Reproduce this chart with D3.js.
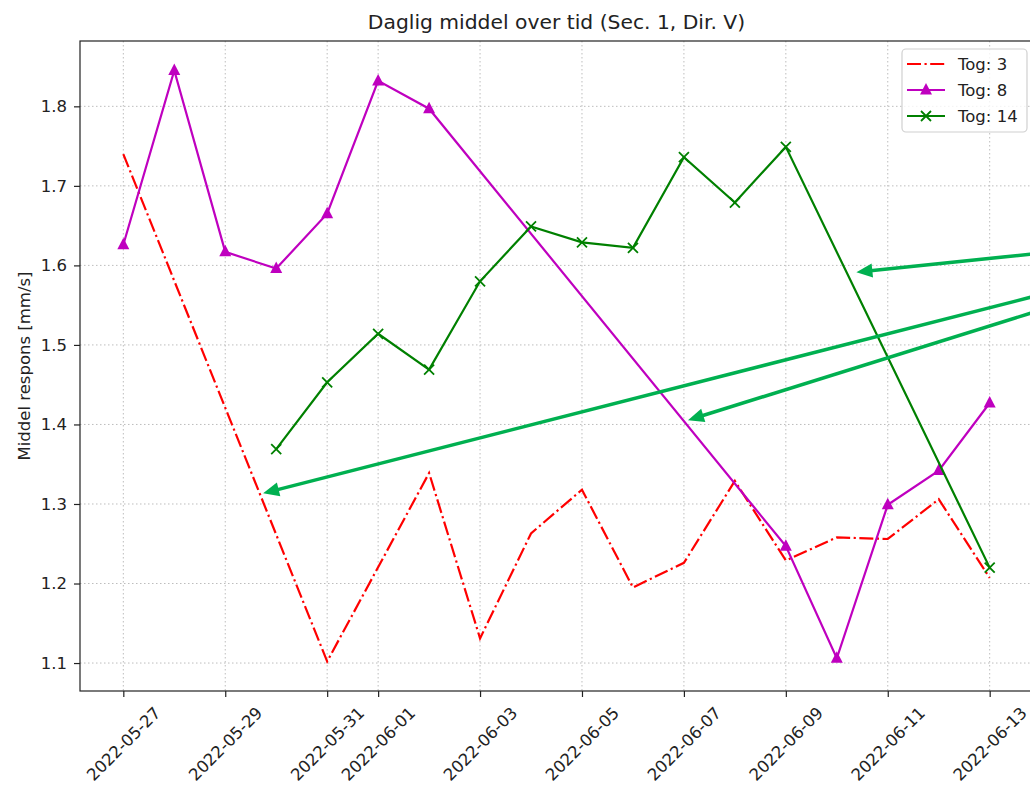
<!DOCTYPE html>
<html>
<head>
<meta charset="utf-8">
<script src="https://cdn.jsdelivr.net/npm/d3@7"></script>
<style>
  html, body { margin: 0; padding: 0; background: #fff; }
  svg { display: block; font-family: "DejaVu Sans", sans-serif; }
</style>
</head>
<body>
<svg id="chart" width="1030" height="785"></svg>
<script>
// ---------- data ----------
const title = "Daglig middel over tid (Sec. 1, Dir. V)";
const yLabel = "Middel respons [mm/s]";

const tog3Dates  = ["2022-05-27","2022-05-31","2022-06-02","2022-06-03","2022-06-04","2022-06-05","2022-06-06","2022-06-07","2022-06-08","2022-06-09","2022-06-10","2022-06-11","2022-06-12","2022-06-13"];
const tog3Values = [1.740, 1.102, 1.339, 1.131, 1.263, 1.318, 1.195, 1.226, 1.329, 1.229, 1.258, 1.256, 1.306, 1.207];

const tog8Dates  = ["2022-05-27","2022-05-28","2022-05-29","2022-05-30","2022-05-31","2022-06-01","2022-06-02","2022-06-09","2022-06-10","2022-06-11","2022-06-12","2022-06-13"];
const tog8Values = [1.626, 1.845, 1.617, 1.596, 1.665, 1.832, 1.797, 1.247, 1.106, 1.299, 1.342, 1.427];

const tog14Dates  = ["2022-05-30","2022-05-31","2022-06-01","2022-06-02","2022-06-03","2022-06-04","2022-06-05","2022-06-06","2022-06-07","2022-06-08","2022-06-09","2022-06-13"];
const tog14Values = [1.369, 1.453, 1.514, 1.469, 1.580, 1.649, 1.629, 1.622, 1.736, 1.679, 1.749, 1.220];

const xTickLabels = ["2022-05-27","2022-05-29","2022-05-31","2022-06-01","2022-06-03","2022-06-05","2022-06-07","2022-06-09","2022-06-11","2022-06-13"];
const yTickValues = [1.1, 1.2, 1.3, 1.4, 1.5, 1.6, 1.7, 1.8];

const seriesNames  = ["Tog: 3", "Tog: 8", "Tog: 14"];
const seriesColors = ["#ff0000", "#bf00bf", "#008000"];

// annotation arrows (data coordinates): common tail, three tips
const arrowTail = { date: "2022-06-19T08:40:00Z", value: 1.651 };
const arrowTipDates  = ["2022-06-10T09:14:00Z", "2022-05-29T17:50:00Z", "2022-06-07T01:55:00Z"];
const arrowTipValues = [1.5915, 1.3134, 1.4054];

// ---------- layout ----------
const W = 1030, H = 785;
const L = 80, R = 1033, T = 41, B = 691;

const parse = d3.utcParse("%Y-%m-%d");
const mk = (ds, vs) => ds.map((d, i) => ({ date: parse(d), value: vs[i] }));
const series = [mk(tog3Dates, tog3Values), mk(tog8Dates, tog8Values), mk(tog14Dates, tog14Values)];

const allDates = series.flat().map(d => d.date);
const allVals = series.flat().map(d => d.value);
const [xmin, xmax] = d3.extent(allDates);
const xpad = (xmax - xmin) * 0.05;
const [ymin, ymax] = d3.extent(allVals);
const ypad = (ymax - ymin) * 0.05;

const x = d3.scaleUtc().domain([new Date(+xmin - xpad), new Date(+xmax + xpad)]).range([L, R]);
const y = d3.scaleLinear().domain([ymin - ypad, ymax + ypad]).range([B, T]);

const svg = d3.select("#chart");
svg.append("rect").attr("width", W).attr("height", H).attr("fill", "#fff");

// grid
const xTicks = xTickLabels.map(parse);
const grid = svg.append("g");
grid.selectAll("line.gx").data(xTicks).enter().append("line")
  .attr("x1", d => x(d)).attr("x2", d => x(d)).attr("y1", T).attr("y2", B)
  .attr("stroke", "#bdbdbd").attr("stroke-width", 1).attr("stroke-dasharray", "1.5,2.5");
grid.selectAll("line.gy").data(yTickValues).enter().append("line")
  .attr("x1", L).attr("x2", R).attr("y1", d => y(d)).attr("y2", d => y(d))
  .attr("stroke", "#bdbdbd").attr("stroke-width", 1).attr("stroke-dasharray", "1.5,2.5");

// axes
const xAxis = d3.axisBottom(x).tickValues(xTicks).tickSize(6).tickFormat(d3.utcFormat("%Y-%m-%d"));
const gx = svg.append("g").attr("transform", `translate(0,${B})`).call(xAxis);
gx.select(".domain").remove();
gx.selectAll(".tick line").attr("stroke", "#222").attr("stroke-width", 1.2);
gx.selectAll(".tick text")
  .attr("font-size", 16.5).attr("fill", "#222").attr("font-family", "DejaVu Sans")
  .attr("text-anchor", "middle").attr("dy", null).attr("y", null)
  .attr("dominant-baseline", "central")
  .attr("transform", "translate(0,53) rotate(-45)");

const yAxis = d3.axisLeft(y).tickValues(yTickValues).tickSize(6).tickPadding(7).tickFormat(d3.format(".1f"));
const gy = svg.append("g").attr("transform", `translate(${L},0)`).call(yAxis);
gy.select(".domain").remove();
gy.selectAll(".tick line").attr("stroke", "#222").attr("stroke-width", 1.2);
gy.selectAll(".tick text").attr("font-size", 16.5).attr("fill", "#222").attr("font-family", "DejaVu Sans");

// frame
svg.append("rect").attr("x", L).attr("y", T).attr("width", R - L).attr("height", B - T)
  .attr("fill", "none").attr("stroke", "#222").attr("stroke-width", 1.2);

// clip
svg.append("clipPath").attr("id", "plotclip").append("rect")
  .attr("x", L).attr("y", T).attr("width", R - L).attr("height", B - T);
const plot = svg.append("g").attr("clip-path", "url(#plotclip)");

const line = d3.line().x(d => x(d.date)).y(d => y(d.value));

// Tog 3: dash-dot red
plot.append("path").datum(series[0]).attr("d", line)
  .attr("fill", "none").attr("stroke", seriesColors[0]).attr("stroke-width", 2.2)
  .attr("stroke-dasharray", "14,3.5,2.2,3.5");

// Tog 8: magenta with triangles
plot.append("path").datum(series[1]).attr("d", line)
  .attr("fill", "none").attr("stroke", seriesColors[1]).attr("stroke-width", 2.2);
const triPath = "M0,-7 L6,4.5 L-6,4.5 Z";
plot.selectAll("path.tri").data(series[1]).enter().append("path")
  .attr("d", triPath).attr("transform", d => `translate(${x(d.date)},${y(d.value)})`)
  .attr("fill", seriesColors[1]);

// Tog 14: green with x markers
plot.append("path").datum(series[2]).attr("d", line)
  .attr("fill", "none").attr("stroke", seriesColors[2]).attr("stroke-width", 2.2);
const xPath = "M-5,-5 L5,5 M-5,5 L5,-5";
plot.selectAll("path.xm").data(series[2]).enter().append("path")
  .attr("d", xPath).attr("transform", d => `translate(${x(d.date)},${y(d.value)})`)
  .attr("fill", "none").attr("stroke", seriesColors[2]).attr("stroke-width", 1.8);

// title
svg.append("text").attr("x", (L + R) / 2).attr("y", 29).attr("text-anchor", "middle")
  .attr("font-size", 20.3).attr("fill", "#222").text(title);

// y label
svg.append("text").attr("transform", `translate(30,${(T + B) / 2}) rotate(-90)`)
  .attr("text-anchor", "middle").attr("font-size", 16.5).attr("fill", "#222").text(yLabel);

// legend
const lg = svg.append("g");
lg.append("rect").attr("x", 902).attr("y", 49).attr("width", 125).attr("height", 83)
  .attr("rx", 4).attr("fill", "#fff").attr("fill-opacity", 0.8)
  .attr("stroke", "#d0d0d0").attr("stroke-width", 1.2);
const legY = [64, 90, 116];
seriesNames.forEach((name, i) => {
  const g = lg.append("g").attr("transform", `translate(0,${legY[i]})`);
  const ln = g.append("line").attr("x1", 907).attr("x2", 945).attr("y1", 0).attr("y2", 0)
    .attr("stroke", seriesColors[i]).attr("stroke-width", 2.2);
  if (i === 0) ln.attr("stroke-dasharray", "14,3.5,2.2,3.5");
  if (i === 1) g.append("path").attr("d", triPath).attr("transform", "translate(926,0)").attr("fill", seriesColors[i]);
  if (i === 2) g.append("path").attr("d", xPath).attr("transform", "translate(926,0)")
    .attr("fill", "none").attr("stroke", seriesColors[i]).attr("stroke-width", 1.8);
  g.append("text").attr("x", 958).attr("y", 6).attr("font-size", 16.5).attr("fill", "#222").text(name);
});

// annotation arrows
const arrowColor = "#00b050";
const tx = x(new Date(arrowTail.date)), ty = y(arrowTail.value);
const ag = svg.append("g");
arrowTipDates.forEach((d, i) => {
  const px = x(new Date(d)), py = y(arrowTipValues[i]);
  const dx = tx - px, dy = ty - py, len = Math.hypot(dx, dy);
  const ux = dx / len, uy = dy / len;
  const headL = 16, headW = 7;
  const bx = px + ux * headL, by = py + uy * headL;
  ag.append("line").attr("x1", tx).attr("y1", ty).attr("x2", bx + ux * -2).attr("y2", by + uy * -2)
    .attr("stroke", arrowColor).attr("stroke-width", 3.5);
  ag.append("path")
    .attr("d", `M${px},${py} L${bx - uy * headW},${by + ux * headW} L${bx + uy * headW},${by - ux * headW} Z`)
    .attr("fill", arrowColor);
});
</script>
</body>
</html>
